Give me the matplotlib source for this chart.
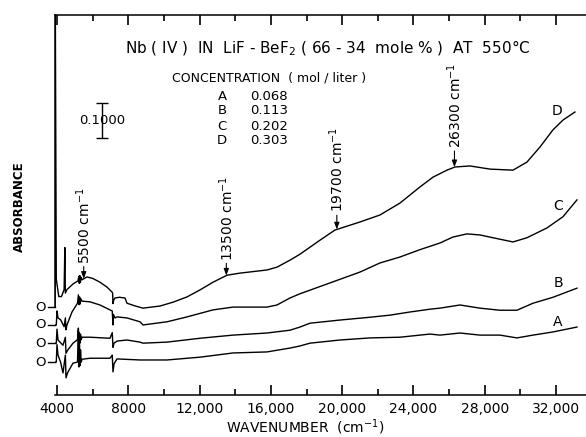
import numpy as np
import matplotlib
matplotlib.use("Agg")
from matplotlib import pyplot as plt
from matplotlib import transforms as mtransforms

# spectra: wavenumber (cm-1) and absorbance above each curve's own zero
wn_a = [3895, 3960, 4000, 4056, 4200, 4337, 4470, 4505, 4600, 4898, 5150, 5200, 5230, 5260, 5290, 5320, 5360, 5400,
        5851, 6973, 7100, 7142, 7200, 7366, 8656, 10171, 12022, 13874, 15781, 17071, 17632, 18193, 19876, 21559,
        23242, 24925, 25486, 26608, 27730, 28852, 29806, 30704, 31826, 33172]
abs_a = [0.0, 0.0, 0.05, 0.02, 0.0, -0.031, 0.02, -0.045, -0.03, -0.003, 0.0, 0.09, -0.014, 0.05, -0.01, 0.035, 0.0, 0.008,
         0.011, 0.011, 0.02, -0.028, -0.005, 0.009, 0.006, 0.006, 0.014, 0.026, 0.029, 0.04, 0.046, 0.054, 0.063, 0.069,
         0.071, 0.08, 0.077, 0.083, 0.077, 0.077, 0.069, 0.077, 0.086, 0.1]

wn_b = [3895, 3960, 4000, 4056, 4337, 4470, 4505, 4600, 4898, 5150, 5200, 5230, 5260, 5290, 5320, 5360, 5400, 5851,
        6973, 7100, 7142, 7200, 7366, 7927, 8656, 8825, 10171, 12022, 13874, 15781, 17071, 17632, 18193, 19876,
        21559, 22681, 23803, 24925, 25486, 26608, 27730, 28852, 29806, 30704, 31826, 33172]
abs_b = [0.0, 0.0, 0.04, 0.009, -0.006, 0.017, -0.029, -0.02, 0.0, 0.01, 0.043, -0.006, 0.03, 0.0, 0.025, 0.01, 0.017, 0.017,
         0.014, 0.03, -0.012, 0.0, 0.006, 0.009, 0.003, 0.0, 0.003, 0.014, 0.023, 0.029, 0.037, 0.046, 0.057, 0.066,
         0.074, 0.08, 0.089, 0.097, 0.1, 0.109, 0.1, 0.094, 0.094, 0.114, 0.131, 0.157]

wn_c = [3895, 3960, 4000, 4056, 4200, 4400, 4470, 4500, 4560, 4842, 5150, 5200, 5240, 5270, 5300, 5340, 5400, 5851,
        6412, 6973, 7100, 7142, 7170, 7250, 7366, 7927, 8656, 8825, 10171, 11293, 12752, 13874, 15781, 16342, 17071,
        17632, 19315, 20998, 22120, 23242, 24364, 25486, 26216, 27001, 27730, 28460, 29582, 30367, 31489, 32387, 33172]
abs_c = [0.0, 0.0, 0.04, 0.02, 0.015, -0.005, 0.02, -0.014, 0.0, 0.037, 0.062, 0.086, 0.058, 0.08, 0.06, 0.075, 0.068, 0.066,
         0.057, 0.043, 0.04, 0.0, 0.03, 0.02, 0.023, 0.02, 0.009, 0.0, 0.009, 0.023, 0.043, 0.051, 0.051, 0.057, 0.077,
         0.089, 0.12, 0.151, 0.177, 0.194, 0.215, 0.234, 0.251, 0.26, 0.257, 0.249, 0.237, 0.249, 0.277, 0.309, 0.357]

wn_d = [3895, 3900, 3960, 4100, 4250, 4400, 4440, 4470, 4560, 4900, 5180, 5220, 5250, 5280, 5310, 5350, 5400, 5683,
        6000, 6412, 6805, 7086, 7120, 7142, 7180, 7254, 7500, 7815, 7927, 8400, 8825, 9778, 10508, 11293, 12022,
        12752, 13537, 14266, 15781, 16342, 17071, 17632, 18754, 19596, 20998, 22120, 23242, 24364, 25094, 25879,
        26328, 27169, 28291, 29582, 30367, 31096, 31826, 32387, 33060]
abs_d = [0.0, 0.95, 0.08, 0.03, 0.03, 0.05, 0.17, 0.04, 0.05, 0.066, 0.075, 0.088, 0.068, 0.09, 0.07, 0.085, 0.078, 0.086,
         0.082, 0.071, 0.057, 0.043, 0.04, 0.01, 0.02, 0.026, 0.028, 0.026, 0.011, 0.003, -0.003, 0.003, 0.014, 0.029, 0.049,
         0.071, 0.091, 0.097, 0.106, 0.114, 0.134, 0.151, 0.191, 0.22, 0.243, 0.263, 0.297, 0.343, 0.371, 0.391,
         0.40, 0.403, 0.394, 0.391, 0.414, 0.457, 0.506, 0.534, 0.557]

labels = ["A", "B", "C", "D"]
concentrations = ["0.068", "0.113", "0.202", "0.303"]
offsets = [0.0, 0.054, 0.106, 0.157]   # curves are stacked, each with its own zero
peaks = [5500, 13500, 19700, 26300]    # marked on curve D
ticks = [4000, 8000, 12000, 16000, 20000, 24000, 28000, 32000]

W, H = 586, 437
fig = plt.figure(figsize=(W / 100, H / 100), dpi=100)
ax = fig.add_axes([55 / W, 1 - 395 / H, 531 / W, 380 / H])

def px(x, y):
    # figure pixel (from top-left) -> figure fraction
    return x / W, 1 - y / H

series = [(wn_a, abs_a), (wn_b, abs_b), (wn_c, abs_c), (wn_d, abs_d)]
for (w, a), off in zip(series, offsets):
    ax.plot(w, np.array(a) + off, color="black", lw=1.0)

ax.set_xlim(3888, 33680)
ax.set_ylim(-0.094, 0.991)

ax.spines["right"].set_visible(False)
ax.spines["left"].set_bounds(offsets[3], 0.991)
for s in ax.spines.values():
    s.set_linewidth(1.1)

ax.set_xticks(ticks)
ax.set_xticks(np.arange(6000, 34000, 4000), minor=True)
ax.set_xticklabels([f"{t:,}" if t >= 10000 else str(t) for t in ticks], fontsize=10)
ax.xaxis.set_ticks_position("both")
ax.tick_params(axis="x", which="both", direction="in", top=True, bottom=True,
               labeltop=False, labelbottom=True, width=1.2, pad=5)
ax.tick_params(axis="x", which="major", length=7)
ax.tick_params(axis="x", which="minor", length=4)
ax.set_yticks([])

# zero markers for each curve
blend = mtransforms.blended_transform_factory(ax.transAxes, ax.transData)
for off in offsets:
    ax.plot([-7 / 531, 0], [off, off], color="black", lw=1.0, transform=blend, clip_on=False)
    ax.text(-9 / 531, off, "O", transform=blend, ha="right", va="center", fontsize=9.5)

# curve labels
fig.text(*px(557, 111), "D", fontsize=10, ha="center", va="center")
fig.text(*px(558, 206), "C", fontsize=10, ha="center", va="center")
fig.text(*px(558, 283), "B", fontsize=10, ha="center", va="center")
fig.text(*px(558, 322), "A", fontsize=10, ha="center", va="center")

# peak arrows
gaps = [15, 15, 17, 19]
for p, g in zip(peaks, gaps):
    yv = np.interp(p, wn_d, abs_d) + offsets[3]
    ax.annotate(f"{p}" + r" cm$^{-1}$", xy=(p, yv), xytext=(0, g), textcoords="offset pixels",
                rotation=90, ha="center", va="bottom", fontsize=10,
                arrowprops=dict(arrowstyle="-|>,head_length=0.4,head_width=0.15", color="black",
                                lw=0.8, shrinkA=0, shrinkB=0))

# 0.1 absorbance scale bar
ax.errorbar([6525], [0.69], yerr=0.05, color="black", capsize=4, lw=1.0, capthick=1.0)
ax.text(6525, 0.689, "0.1000", ha="center", va="center", fontsize=9.5)

# title and concentration table
fig.text(*px(125, 48), r"Nb ( IV )  IN  LiF - BeF$_2$ ( 66 - 34  mole % )  AT  550°C",
         fontsize=11, ha="left", va="center")
fig.text(*px(172, 78), "CONCENTRATION  ( mol / liter )", fontsize=9, ha="left", va="center")
for i, (lab, c) in enumerate(zip(labels, concentrations)):
    fig.text(*px(222, 96 + 15 * i), lab, fontsize=9.5, ha="center", va="center")
    fig.text(*px(250, 96 + 15 * i), c, fontsize=9.5, ha="left", va="center")

fig.text(*px(19, 207), "ABSORBANCE", rotation=90, fontsize=8.5, fontweight="bold", ha="center", va="center")
fig.text(*px(305, 427), r"WAVENUMBER  (cm$^{-1}$)", fontsize=10, ha="center", va="center")

fig.savefig("out.png", dpi=100)
